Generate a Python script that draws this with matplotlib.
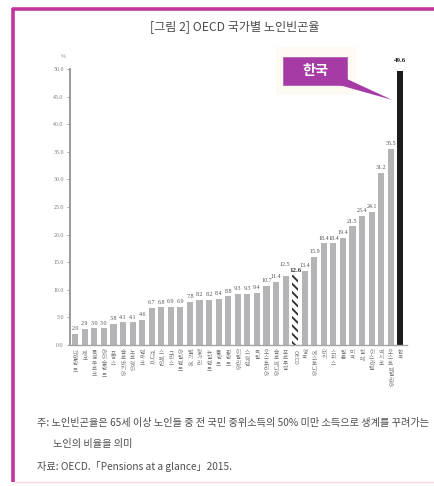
import matplotlib
matplotlib.use("Agg")
import matplotlib.pyplot as plt
from matplotlib.lines import Line2D
from matplotlib.patches import Rectangle, Polygon
from matplotlib.transforms import blended_transform_factory, offset_copy

plt.rcParams["font.family"] = ["Noto Sans CJK KR", "DejaVu Sans"]
plt.rcParams["hatch.linewidth"] = 1.3
plt.rcParams["hatch.color"] = "#2b2b2b"

# Old-age income poverty rate (%), OECD countries
countries = [
    "네덜란드", "체코", "룩셈부르크", "아이슬란드", "프랑스", "슬로바키아", "노르웨이",
    "덴마크", "캐나다", "스페인", "그리스", "아일랜드", "벨기에", "헝가리", "뉴질랜드",
    "폴란드", "핀란드", "이탈리아", "스웨덴", "독일", "오스트리아", "슬로베니아",
    "포르투갈", "OECD", "영국", "에스토니아", "터키", "스위스", "일본", "미국",
    "칠레", "이스라엘", "멕시코", "오스트레일리아", "한국",
]
values = [
    2.0, 2.9, 3.0, 3.0, 3.8, 4.1, 4.1, 4.6, 6.7, 6.8, 6.9, 6.9, 7.8, 8.2, 8.2,
    8.4, 8.8, 9.3, 9.3, 9.4, 10.7, 11.4, 12.5, 12.6, 13.4, 15.9, 18.4, 18.4,
    19.4, 21.5, 23.4, 24.1, 31.2, 35.5, 49.6,
]
y_ticks = [0, 5, 10, 15, 20, 25, 30, 35, 40, 45, 50]
highlight = "한국"
average = "OECD"

title = "[그림 2] OECD 국가별 노인빈곤율"
note_1 = "주: 노인빈곤율은 65세 이상 노인들 중 전 국민 중위소득의 50% 미만 소득으로 생계를 꾸려가는"
note_2 = "노인의 비율을 의미"
source = "자료: OECD.「Pensions at a glance」2015."

W, H = 435, 486
fig = plt.figure(figsize=(W / 100, H / 100), dpi=100)
fig.patch.set_facecolor("white")

# magenta frame (top and left edges)
frame_col = "#c2379c"
fig.add_artist(Line2D([12 / W, 1.0], [1 - 9.5 / H] * 2, color=frame_col, lw=2.6,
                      solid_capstyle="butt"))
fig.add_artist(Line2D([13.5 / W] * 2, [1 - 8 / H, 1 - 482 / H], color=frame_col, lw=2.6,
                      solid_capstyle="butt"))
fig.add_artist(Line2D([15 / W, 1.0], [1 - 482 / H] * 2, color="#f1d9e6", lw=1.0))

fig.text(235 / W, 1 - 27 / H, title, ha="center", va="center", fontsize=8.7,
         color="#4a4a4a")

ax = fig.add_axes([70 / W, 1 - 345 / H, (407 - 70) / W, (345 - 69) / H])
x = list(range(len(values)))

colors = []
for c in countries:
    if c == highlight:
        colors.append("#1c1c1c")
    elif c == average:
        colors.append("white")
    else:
        colors.append("#b4b4b6")

bars = ax.bar(x, values, width=0.64, color=colors, linewidth=0, zorder=2)
for b, c in zip(bars, countries):
    if c == average:
        b.set_hatch("\\\\\\\\")
        b.set_edgecolor("#2b2b2b")
        b.set_linewidth(0)

ax.set_xlim(-0.55, len(values) - 0.3)
ax.set_ylim(0, 50)
ax.set_yticks(y_ticks)
ax.set_yticklabels([f"{t:.1f}" for t in y_ticks], fontsize=4.2, color="#777777",
                   family="Liberation Serif")
ax.tick_params(axis="y", length=2.5, width=0.6, color="#999999", pad=2)
ax.set_xticks([])
for s in ("top", "right"):
    ax.spines[s].set_visible(False)
ax.spines["left"].set_color("#9a9a9a")
ax.spines["left"].set_linewidth(1.4)
ax.spines["bottom"].set_color("#a5a5a5")
ax.spines["bottom"].set_linewidth(1.0)

ax.text(-1.3, 51.8, "%", fontsize=3.8, color="#888888", ha="center", va="bottom",
        clip_on=False)

# value labels
avg_i = countries.index(average)
for xi, v, c in zip(x, values, countries):
    if c == highlight:
        ax.text(xi, v + 1.4, f"{v:.1f}", ha="center", va="bottom", fontsize=5.0,
                fontweight="bold", color="#222222", family="Liberation Serif",
                clip_on=False)
    elif c == average:
        ax.text(xi, v + 0.4, f"{v:.1f}", ha="center", va="bottom", fontsize=5.0,
                fontweight="bold", color="#333333", family="Liberation Serif")
    elif xi == avg_i - 1:
        # lifted so it clears the average's label
        ax.text(xi - 0.1, v + 1.6, f"{v:.1f}", ha="center", va="bottom", fontsize=4.3,
                color="#555555", family="Liberation Serif")
    else:
        ax.text(xi, v + 0.5, f"{v:.1f}", ha="center", va="bottom", fontsize=4.3,
                color="#555555", family="Liberation Serif")

# country names, stacked vertically under each bar
trans = offset_copy(blended_transform_factory(ax.transData, ax.transAxes),
                    fig=fig, x=0, y=-5, units="dots")
for xi, c in zip(x, countries):
    if c == average:
        ax.text(xi, 0, c, transform=trans, rotation=-90, ha="center", va="top",
                fontsize=4.0, color="#777777")
    else:
        ax.text(xi, 0, "\n".join(c), transform=trans, ha="center", va="top",
                fontsize=4.0, color="#777777", linespacing=1.1)

# callout pointing at the highlighted country
k = countries.index(highlight)
ax.add_patch(Rectangle((k - 13.0, 45.3), 8.4, 8.7, facecolor="#fdfaf3",
                       edgecolor="none", clip_on=False, zorder=3))
ax.add_patch(Rectangle((k - 12.3, 47.1), 6.75, 5.1, facecolor="#a63ba6",
                       edgecolor="#b060b0", linewidth=0.6, clip_on=False, zorder=4))
ax.add_patch(Polygon([(k - 5.6, 48.2), (k - 6.4, 47.1), (k - 0.85, 44.4)],
                     closed=True, facecolor="#a63ba6", edgecolor="none",
                     clip_on=False, zorder=4))
ax.text(k - 8.9, 49.65, highlight, ha="center", va="center", fontsize=10.2,
        fontweight="bold", color="white", clip_on=False, zorder=5)

# footnotes
note_kw = dict(ha="left", va="center", fontsize=7.3, color="#4d4d4d")
fig.text(37 / W, 1 - 423 / H, note_1, **note_kw)
fig.text(53 / W, 1 - 444 / H, note_2, **note_kw)
fig.text(37 / W, 1 - 466 / H, source, **note_kw)

fig.savefig("out.png", dpi=100)
